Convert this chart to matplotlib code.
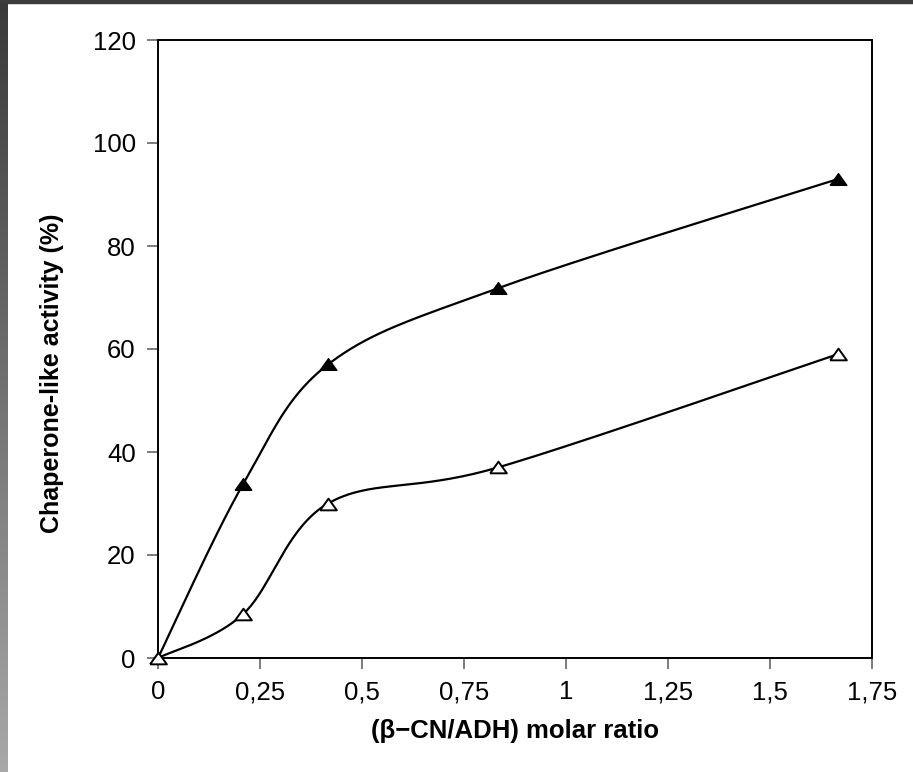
import numpy as np
import matplotlib
matplotlib.use("Agg")
import matplotlib.pyplot as plt
from matplotlib.patches import Rectangle

x_vals = [0, 0.2083, 0.4167, 0.8333, 1.6667]
filled_vals = [0, 33.7, 57.0, 71.8, 93.0]
open_vals = [0, 8.5, 30.0, 37.0, 59.0]
x_ticks = [0, 0.25, 0.5, 0.75, 1, 1.25, 1.5, 1.75]
x_tick_labels = ["0", "0,25", "0,5", "0,75", "1", "1,25", "1,5", "1,75"]
y_ticks = [0, 20, 40, 60, 80, 100, 120]

plt.rcParams['font.family'] = ['Liberation Sans', 'DejaVu Sans']

def smooth(xs, ys, n=40):
    xs = np.asarray(xs, float); ys = np.asarray(ys, float)
    P = np.column_stack([xs, ys])
    out = []
    for i in range(len(P) - 1):
        p0 = P[i - 1] if i > 0 else P[i]
        p1 = P[i]; p2 = P[i + 1]
        p3 = P[i + 2] if i + 2 < len(P) else P[i + 1]
        c1 = p1 + (p2 - p0) / 6.0
        c2 = p2 - (p3 - p1) / 6.0
        t = np.linspace(0, 1, n)[:, None]
        seg = ((1 - t) ** 3) * p1 + 3 * ((1 - t) ** 2) * t * c1 + 3 * (1 - t) * t ** 2 * c2 + t ** 3 * p2
        out.append(seg if i == 0 else seg[1:])
    S = np.vstack(out)
    return S[:, 0], S[:, 1]

tri = [(-1.0, -0.7), (1.0, -0.7), (0.0, 0.7), (-1.0, -0.7)]

fig = plt.figure(figsize=(9.13, 7.72), dpi=100)
fig.patch.set_facecolor('white')
fig.add_artist(Rectangle((0, 1 - 3 / 772), 1, 3 / 772, transform=fig.transFigure, color='#3c3c3c', zorder=0))
grad = np.linspace(0, 1, 256)[:, None]
axg = fig.add_axes([0, 0, 7 / 913, 1 - 3 / 772])
axg.imshow(grad, aspect='auto', cmap=matplotlib.colors.LinearSegmentedColormap.from_list('g', ['#3a3a3a', '#a8a8a8']))
axg.set_axis_off()

ax = fig.add_axes([158 / 913, 1 - 658 / 772, (872 - 158) / 913, (658 - 40) / 772])
sx, sy = smooth(x_vals, filled_vals)
ax.plot(sx, sy, color='black', lw=1.6, zorder=2)
ax.plot(x_vals, filled_vals, ls='none', marker=tri, ms=12, mfc='black', mec='black', zorder=3, clip_on=False)
sx, sy = smooth(x_vals, open_vals)
ax.plot(sx, sy, color='black', lw=1.6, zorder=2)
ax.plot(x_vals, open_vals, ls='none', marker=tri, ms=12, mfc='white', mec='black', mew=1.4, zorder=3, clip_on=False)

ax.set_xlim(0, 1.75)
ax.set_ylim(0, 120)
ax.set_xticks(x_ticks)
ax.set_xticklabels(x_tick_labels)
ax.set_yticks(y_ticks)
for s in ax.spines.values():
    s.set_linewidth(1.4)
ax.tick_params(direction='out', length=8, width=1.2, color='#666666', labelsize=18.5)
ax.tick_params(axis='y', pad=8)
ax.tick_params(axis='x', pad=8)
ax.set_xlabel('(β−CN/ADH) molar ratio', fontsize=18.5, fontweight='bold')
ax.xaxis.set_label_coords(0.5, -0.099)
ax.set_ylabel('Chaperone-like activity (%)', fontsize=18, fontweight='bold')
ax.yaxis.set_label_coords(-0.132, 0.461)

fig.savefig('out.png', dpi=100)
